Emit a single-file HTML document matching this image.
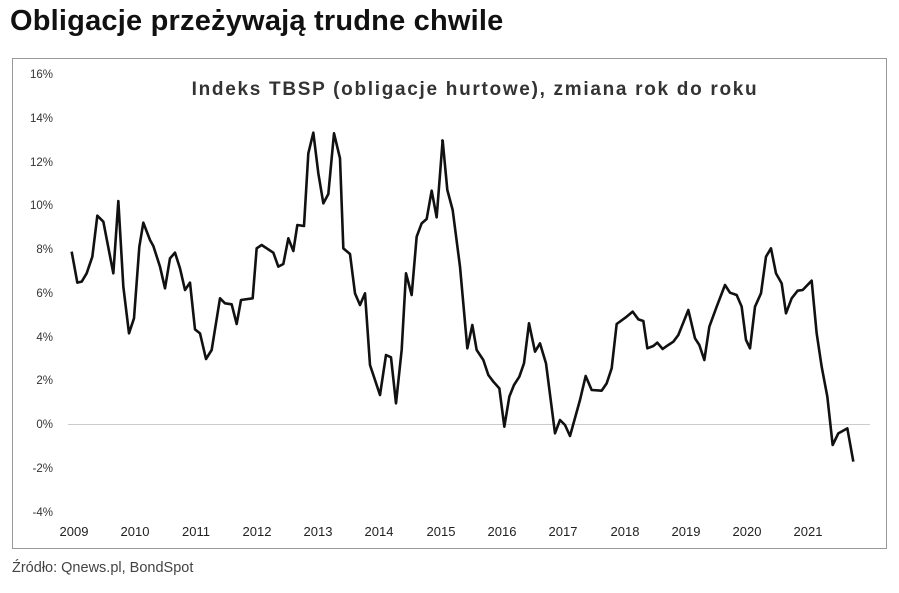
<!DOCTYPE html>
<html><head><meta charset="utf-8"><style>
body{margin:0;background:#fff;width:899px;height:593px;overflow:hidden;font-family:"Liberation Sans",sans-serif}
.t{position:absolute;left:10px;top:5px;font-size:29px;font-weight:bold;color:#111;letter-spacing:0.2px}
.s{position:absolute;left:12px;top:560px;font-size:14.5px;color:#444}
</style></head><body>
<div class="t">Obligacje przeżywają trudne chwile</div>
<svg style="position:absolute;left:0;top:0" width="899" height="593">
<rect x="12.5" y="58.5" width="874" height="490" fill="none" stroke="#999" stroke-width="1"/>
<text x="475" y="95" text-anchor="middle" font-size="19" font-weight="bold" fill="#333" letter-spacing="1.7" font-family="Liberation Sans">Indeks TBSP (obligacje hurtowe), zmiana rok do roku</text>
<g font-size="11.5" fill="#333" text-anchor="end" font-family="Liberation Sans">
<text x="53" y="78">16%</text><text x="53" y="122">14%</text><text x="53" y="166">12%</text><text x="53" y="209">10%</text><text x="53" y="253">8%</text><text x="53" y="297">6%</text><text x="53" y="341">4%</text><text x="53" y="384">2%</text><text x="53" y="428">0%</text><text x="53" y="472">-2%</text><text x="53" y="516">-4%</text>
</g>
<g font-size="13" fill="#222" text-anchor="middle" font-family="Liberation Sans">
<text x="74" y="536">2009</text><text x="135" y="536">2010</text><text x="196" y="536">2011</text><text x="257" y="536">2012</text><text x="318" y="536">2013</text><text x="379" y="536">2014</text><text x="441" y="536">2015</text><text x="502" y="536">2016</text><text x="563" y="536">2017</text><text x="625" y="536">2018</text><text x="686" y="536">2019</text><text x="747" y="536">2020</text><text x="808" y="536">2021</text>
</g>
<line x1="68" y1="424.5" x2="870" y2="424.5" stroke="#ccc" stroke-width="1"/>
<g fill="none" stroke="#111" stroke-width="2.6" stroke-linejoin="round">
<polyline transform="translate(60,120) scale(0.33333)" vector-effect="non-scaling-stroke" points="35,395 52,488 65,485 80,460 97,410 112,287 130,305 160,460 175,243 190,500 207,640 222,595 238,380 250,308 270,360 280,378 300,440 315,505 330,415 345,398 360,445 375,510 390,488 405,628 420,640 438,717 455,690 480,535 495,550 515,553 530,612 543,540 578,535 590,385 605,375 640,398 655,440 670,432 685,355 700,393 712,315 732,318 745,100 760,38 775,160 790,250 805,222 822,40 840,115 850,385 870,402 885,520 900,555 915,520 930,735 960,825 978,705 993,712 1008,850 1025,690 1038,460 1055,525 1070,350 1085,310 1100,297 1115,212 1130,292 1148,60"/>
<polyline transform="translate(440,120) scale(0.33333)" vector-effect="non-scaling-stroke" points="4,60 8,62 22,210 38,270 60,440 82,685 97,615 110,690 130,720 145,765 160,785 178,805 193,920 208,830 222,795 238,770 252,730 267,610 285,695 300,670 318,730 345,940 360,900 375,915 390,948 420,840 437,768 455,810 485,812 500,790 515,745 530,612 560,590 578,575 595,598 610,603 622,685 640,678 652,668 668,687 685,675 700,665 715,645 745,570 765,655 778,675 793,720 808,620 830,560 855,495 870,518 890,525 905,560 918,660 930,685 945,560 963,520 978,410 993,385 1008,460 1025,490 1038,580 1055,535 1073,512 1088,510 1115,482 1130,640 1145,740 1162,830 1178,975 1195,940 1222,925 1240,1025"/>
</g>
</svg>
<div class="s">Źródło: Qnews.pl, BondSpot</div>
</body></html>
